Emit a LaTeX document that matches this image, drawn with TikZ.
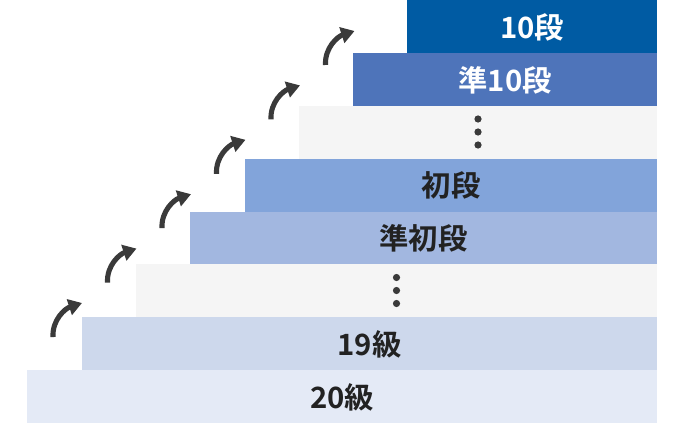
\documentclass[tikz,border=0pt]{standalone}
\usepackage{fontspec}
\setmainfont{Noto Sans CJK JP}[BoldFont={* Bold}]
\usetikzlibrary{arrows.meta}
\definecolor{cA}{RGB}{0,91,163}
\definecolor{cB}{RGB}{78,116,186}
\definecolor{cG}{RGB}{245,245,245}
\definecolor{cC}{RGB}{130,164,218}
\definecolor{cD}{RGB}{162,183,224}
\definecolor{cE}{RGB}{205,216,236}
\definecolor{cF}{RGB}{228,234,246}
\definecolor{ink}{RGB}{34,34,34}
\definecolor{arr}{RGB}{58,58,58}
\tikzset{
  lbl/.style={font=\fontsize{22}{25}\selectfont\bfseries, inner sep=0pt},
  dk/.style={lbl, text=ink},
  wt/.style={lbl, text=white},
  dotc/.style={fill=arr},
  climb/.style={draw=arr, line width=3.8pt, -{Triangle[length=10pt,width=12pt]}},
}
\begin{document}
\begin{tikzpicture}[x=0.75pt,y=-0.75pt]
\useasboundingbox (0,0) rectangle (684,424);
% rows
\fill[cA] (407,0) rectangle (657,52.9);
\fill[cB] (353,52.9) rectangle (657,105.8);
\fill[cG] (299,105.8) rectangle (657,158.6);
\fill[cC] (245,158.6) rectangle (657,211.5);
\fill[cD] (190,211.5) rectangle (657,264.4);
\fill[cG] (136,264.4) rectangle (657,317.3);
\fill[cE] (82,317.3) rectangle (657,370.1);
\fill[cF] (27,370.1) rectangle (657,423);
% labels
\node[wt] (r10) at (532,27.5) {10段};
\node[wt] (rj10) at (505,80.3) {準10段};
\node[dk] (rs) at (451,185.7) {初段};
\node[dk] (rjs) at (423.5,238.5) {準初段};
\node[dk] (r19) at (369.5,344.3) {19級};
\node[dk] (r20) at (342,397.1) {20級};
% dots
\foreach \y in {119,132,145} \fill[dotc] (478,\y) circle (3.6);
\foreach \y in {277.5,290.5,303.5} \fill[dotc] (396.5,\y) circle (3.6);
% arrows
\foreach \k in {0,...,5} {
  \coordinate (t\k) at ({53+54.5*\k},{337-54.4*\k});
  \coordinate (h\k) at ({82+54.5*\k},{303-54.4*\k});
  \draw[climb] (t\k) to[out=93,in=198] (h\k);
}
\end{tikzpicture}
\end{document}
